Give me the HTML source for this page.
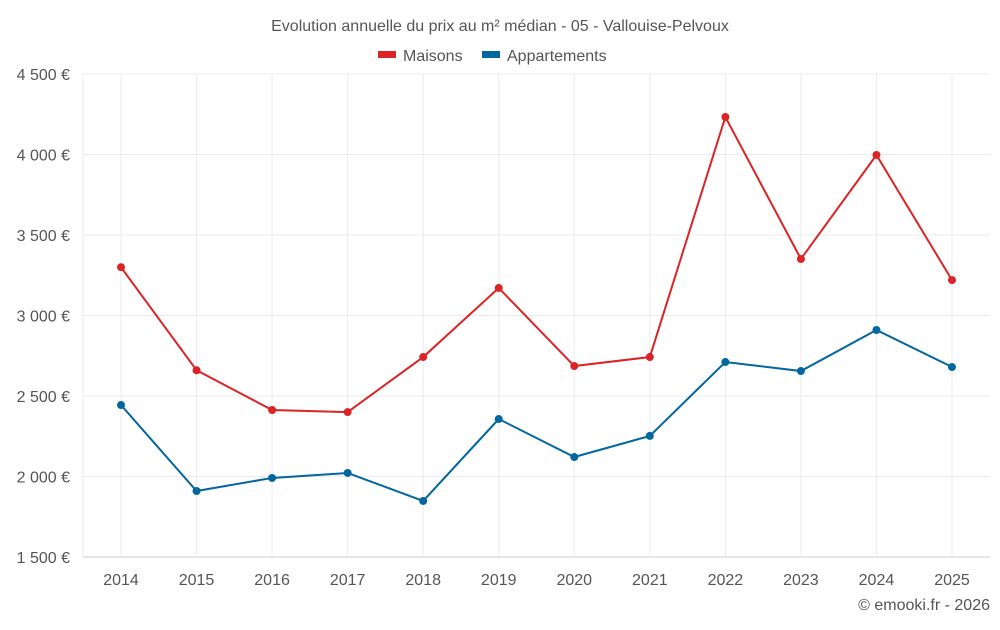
<!DOCTYPE html>
<html><head><meta charset="utf-8"><style>
body{margin:0;background:#fff;font-family:"Liberation Sans",sans-serif}
text{font-family:"Liberation Sans",sans-serif;fill:#555}
</style></head><body>
<svg id="chart" width="1000" height="625">
<text x="500" y="31" text-anchor="middle" font-size="16">Evolution annuelle du prix au m² médian - 05 - Vallouise-Pelvoux</text>
<g>
<g><rect x="378" y="51" width="18" height="7" fill="#dc2326"/><text x="403" y="61" font-size="16">Maisons</text></g>
<g><rect x="482" y="51" width="18" height="7" fill="#02669f"/><text x="507" y="61" font-size="16">Appartements</text></g>
</g>
<g id="grid"></g><g id="axes"></g><g id="series"></g>
<text x="990" y="610" text-anchor="end" font-size="16">© emooki.fr - 2026</text>
</svg>
<script>
const years=["2014","2015","2016","2017","2018","2019","2020","2021","2022","2023","2024","2025"];
const maisons=[3300,2660,2413,2400,2742,3171,2686,2742,4233,3351,3997,3220];
const apparts=[2444,1910,1991,2022,1848,2357,2121,2252,2711,2655,2910,2680];
const yTicks=[1500,2000,2500,3000,3500,4000,4500];
const yTickLabels=["1 500 €","2 000 €","2 500 €","3 000 €","3 500 €","4 000 €","4 500 €"];
const L=83,R=990,T=74,B=557,yMin=1500,yMax=4500;
const x0=121,x1=952;
const X=i=>x0+i*(x1-x0)/(years.length-1);
const Y=v=>B-(v-yMin)/(yMax-yMin)*(B-T);
const NS="http://www.w3.org/2000/svg";
function mk(t,a,p){const e=document.createElementNS(NS,t);for(const k in a)e.setAttribute(k,a[k]);p.appendChild(e);return e;}
const grid=document.getElementById('grid'),axes=document.getElementById('axes'),ser=document.getElementById('series');
yTicks.forEach((v,i)=>{
 const l=mk('line',{x1:L,x2:R,y1:Y(v),y2:Y(v),stroke:i==0?'#ccc':'#ebebeb'},grid);
 
 
 const t=mk('text',{x:70,y:Y(v)+6,'text-anchor':'end','font-size':16},axes);
 t.textContent=yTickLabels[i];
 
 
});
mk('line',{x1:L,x2:L,y1:T,y2:B,stroke:'#ebebeb'},grid);
years.forEach((y,i)=>{
 const l=mk('line',{x1:X(i),x2:X(i),y1:T,y2:B,stroke:'#ebebeb'},grid);
 
 
 const t=mk('text',{x:X(i),y:585,'text-anchor':'middle','font-size':16},axes);
 t.textContent=y;
 
 
});
function draw(data,color,name){
 const p=mk('polyline',{points:data.map((v,i)=>X(i)+','+Y(v)).join(' '),fill:'none',stroke:color,'stroke-width':2},ser);
 
 
 data.forEach((v,i)=>{
  const c=mk('circle',{cx:X(i),cy:Y(v),r:4,fill:color},ser);
  
  
 });
}
draw(maisons,'#dc2326','maisons');
draw(apparts,'#02669f','appartements');
</script>
</body></html>
